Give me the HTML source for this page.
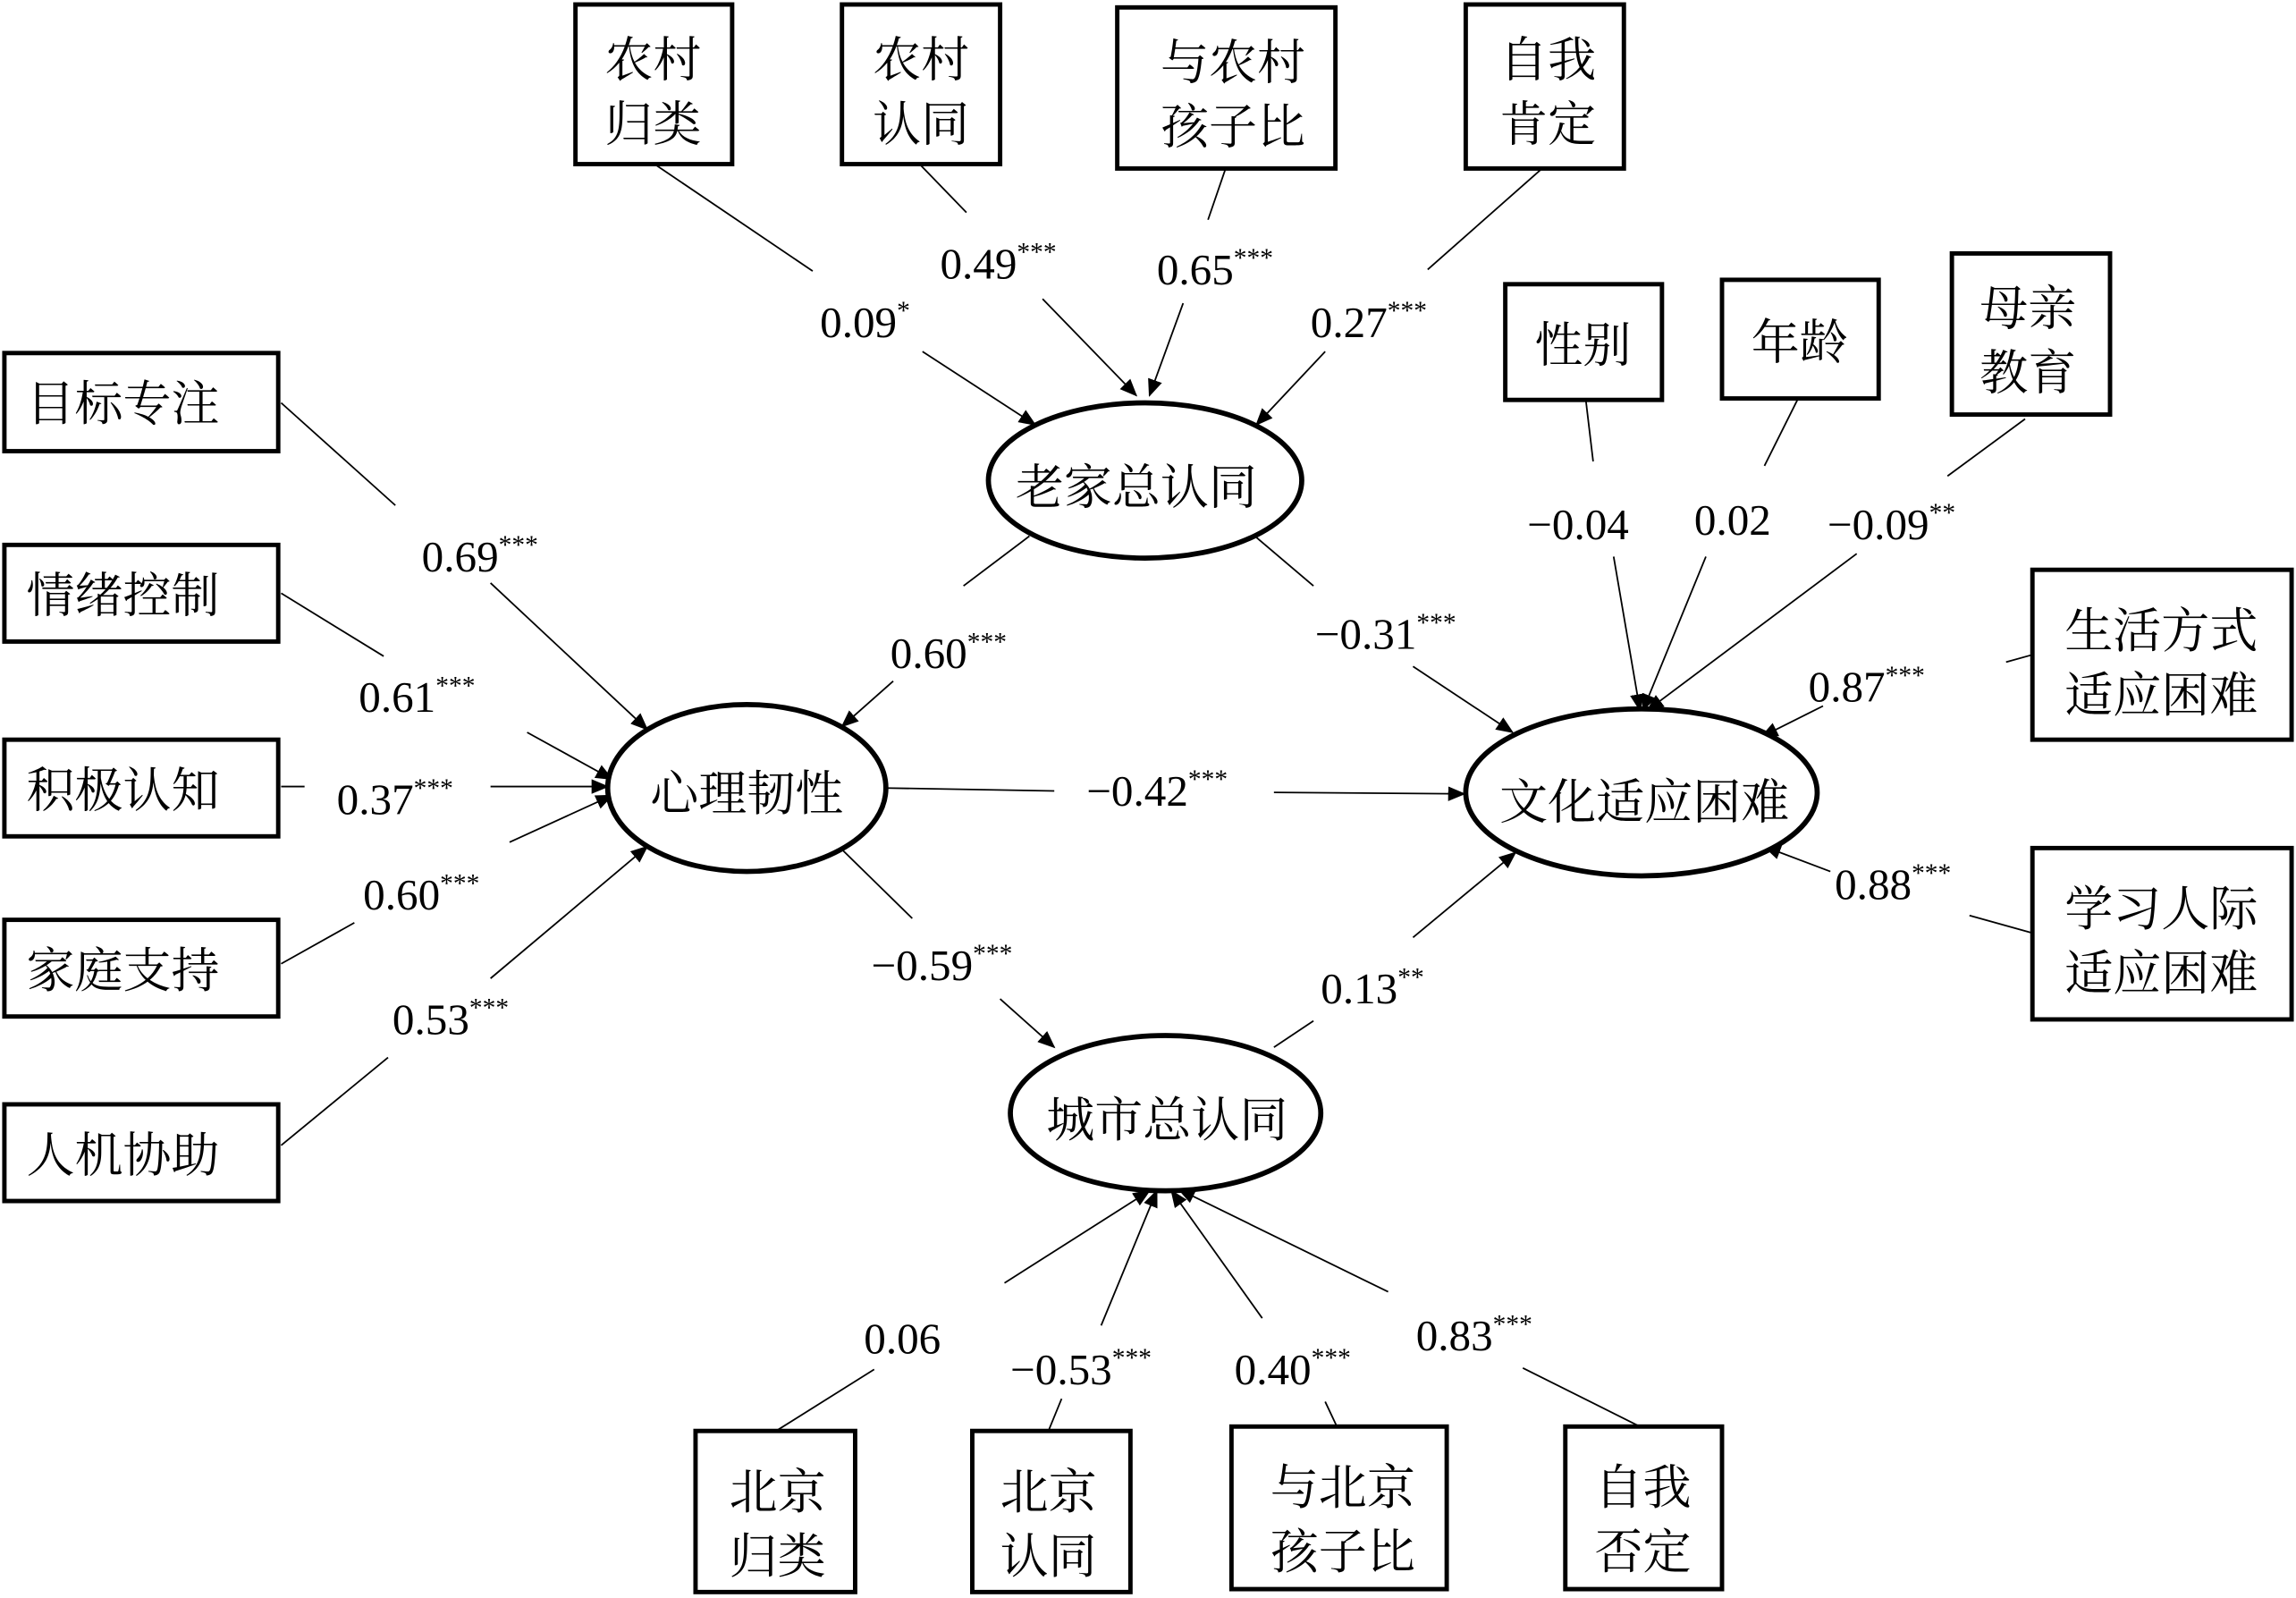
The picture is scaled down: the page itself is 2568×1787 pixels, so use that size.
<!DOCTYPE html>
<html><head><meta charset="utf-8">
<style>
html,body{margin:0;padding:0;background:#fff;}
svg{display:block;}
.b{fill:#fff;stroke:#000;stroke-width:3;}
.e{fill:#fff;stroke:#000;stroke-width:3.5;}
.l{stroke:#000;stroke-width:1.1;fill:none;}
.a{stroke:#000;stroke-width:1.1;fill:none;marker-end:url(#ar);}
.c{font-family:"Liberation Serif","Noto Serif CJK SC",serif;font-size:33px;fill:#000;}
.n{font-family:"Liberation Serif",serif;font-size:30px;fill:#000;}
.s{font-size:18px;}
</style></head><body>
<svg width="2568" height="1787" viewBox="0 0 1568 1091" xmlns="http://www.w3.org/2000/svg">
<defs><marker id="ar" markerWidth="12" markerHeight="10" refX="11" refY="5" orient="auto" markerUnits="userSpaceOnUse"><path d="M0,0 L12,5 L0,10 z" fill="#000"/></marker></defs>

<!-- lines -->
<line class="l" x1="447" y1="112" x2="555" y2="185"/><line class="a" x1="630" y1="240" x2="707" y2="290"/>
<line class="l" x1="628" y1="112" x2="660" y2="145"/><line class="a" x1="712" y1="204" x2="776" y2="270"/>
<line class="l" x1="837" y1="115" x2="825" y2="150"/><line class="a" x1="808" y1="207" x2="785" y2="270"/>
<line class="l" x1="1052" y1="116" x2="975" y2="184"/><line class="a" x1="905" y1="240" x2="858" y2="290"/>
<line class="l" x1="192" y1="275" x2="270" y2="345"/><line class="a" x1="335" y1="398" x2="442" y2="498"/>
<line class="l" x1="192" y1="405" x2="262" y2="448"/><line class="a" x1="360" y1="500" x2="418" y2="532"/>
<line class="l" x1="192" y1="537" x2="208" y2="537"/><line class="a" x1="335" y1="537" x2="415" y2="537"/>
<line class="l" x1="192" y1="658" x2="242" y2="630"/><line class="a" x1="348" y1="575" x2="418" y2="543"/>
<line class="l" x1="192" y1="782" x2="265" y2="722"/><line class="a" x1="335" y1="668" x2="442" y2="578"/>
<line class="l" x1="703" y1="366" x2="658" y2="400"/><line class="a" x1="610" y1="465" x2="575" y2="496"/>
<line class="l" x1="857" y1="366" x2="897" y2="400"/><line class="a" x1="965" y1="455" x2="1033" y2="500"/>
<line class="l" x1="605" y1="538" x2="720" y2="540"/><line class="a" x1="870" y1="541" x2="1000" y2="542"/>
<line class="l" x1="575" y1="580" x2="623" y2="627"/><line class="a" x1="683" y1="682" x2="720" y2="715"/>
<line class="l" x1="870" y1="715" x2="897" y2="697"/><line class="a" x1="965" y1="640" x2="1035" y2="582"/>
<line class="l" x1="1083" y1="273" x2="1088" y2="315"/><line class="a" x1="1102" y1="380" x2="1120" y2="485"/>
<line class="l" x1="1228" y1="272" x2="1205" y2="318"/><line class="a" x1="1165" y1="380" x2="1122" y2="485"/>
<line class="l" x1="1383" y1="286" x2="1330" y2="325"/><line class="a" x1="1268" y1="378" x2="1125" y2="485"/>
<line class="l" x1="1388" y1="447" x2="1370" y2="452"/><line class="a" x1="1245" y1="482" x2="1203" y2="503"/>
<line class="l" x1="1388" y1="637" x2="1345" y2="625"/><line class="a" x1="1250" y1="595" x2="1205" y2="578"/>
<line class="l" x1="530" y1="977" x2="597" y2="935"/><line class="a" x1="686" y1="876" x2="785" y2="813"/>
<line class="l" x1="716" y1="977" x2="725" y2="955"/><line class="a" x1="752" y1="905" x2="790" y2="813"/>
<line class="l" x1="913" y1="974" x2="905" y2="957"/><line class="a" x1="862" y1="900" x2="800" y2="813"/>
<line class="l" x1="1120" y1="974" x2="1040" y2="934"/><line class="a" x1="948" y1="882" x2="805" y2="812"/>

<!-- boxes -->
<rect class="b" x="393" y="3" width="107" height="109"/><text class="c" x="446" y="52" text-anchor="middle">农村</text><text class="c" x="446" y="96" text-anchor="middle">归类</text>
<rect class="b" x="575" y="3" width="108" height="109"/><text class="c" x="629" y="52" text-anchor="middle">农村</text><text class="c" x="629" y="96" text-anchor="middle">认同</text>
<rect class="b" x="763" y="5" width="149" height="110"/><text class="c" x="842" y="54" text-anchor="middle">与农村</text><text class="c" x="842" y="98" text-anchor="middle">孩子比</text>
<rect class="b" x="1001" y="3" width="108" height="112"/><text class="c" x="1057" y="52" text-anchor="middle">自我</text><text class="c" x="1057" y="96" text-anchor="middle">肯定</text>

<rect class="b" x="3" y="241" width="187" height="67"/><text class="c" x="18" y="287">目标专注</text>
<rect class="b" x="3" y="372" width="187" height="66"/><text class="c" x="18" y="418">情绪控制</text>
<rect class="b" x="3" y="505" width="187" height="66"/><text class="c" x="18" y="551">积极认知</text>
<rect class="b" x="3" y="628" width="187" height="66"/><text class="c" x="18" y="674">家庭支持</text>
<rect class="b" x="3" y="754" width="187" height="66"/><text class="c" x="18" y="800">人机协助</text>

<rect class="b" x="1028" y="194" width="107" height="79"/><text class="c" x="1081" y="247" text-anchor="middle">性别</text>
<rect class="b" x="1176" y="191" width="107" height="81"/><text class="c" x="1229" y="245" text-anchor="middle">年龄</text>
<rect class="b" x="1333" y="173" width="108" height="110"/><text class="c" x="1385" y="222" text-anchor="middle">母亲</text><text class="c" x="1385" y="266" text-anchor="middle">教育</text>
<rect class="b" x="1388" y="389" width="177" height="116"/><text class="c" x="1476" y="442" text-anchor="middle">生活方式</text><text class="c" x="1476" y="486" text-anchor="middle">适应困难</text>
<rect class="b" x="1388" y="579" width="177" height="117"/><text class="c" x="1476" y="632" text-anchor="middle">学习人际</text><text class="c" x="1476" y="676" text-anchor="middle">适应困难</text>

<rect class="b" x="475" y="977" width="109" height="110"/><text class="c" x="531" y="1030" text-anchor="middle">北京</text><text class="c" x="531" y="1074" text-anchor="middle">归类</text>
<rect class="b" x="664" y="977" width="108" height="110"/><text class="c" x="716" y="1030" text-anchor="middle">北京</text><text class="c" x="716" y="1074" text-anchor="middle">认同</text>
<rect class="b" x="841" y="974" width="147" height="111"/><text class="c" x="917" y="1027" text-anchor="middle">与北京</text><text class="c" x="917" y="1071" text-anchor="middle">孩子比</text>
<rect class="b" x="1069" y="974" width="107" height="111"/><text class="c" x="1122" y="1027" text-anchor="middle">自我</text><text class="c" x="1122" y="1071" text-anchor="middle">否定</text>

<!-- ellipses -->
<ellipse class="e" cx="782" cy="328" rx="107" ry="53"/><text class="c" x="776" y="344" text-anchor="middle">老家总认同</text>
<ellipse class="e" cx="510" cy="538" rx="95" ry="57"/><text class="c" x="510" y="553" text-anchor="middle">心理韧性</text>
<ellipse class="e" cx="1121" cy="541" rx="120" ry="57"/><text class="c" x="1123" y="559" text-anchor="middle">文化适应困难</text>
<ellipse class="e" cx="796" cy="760" rx="106" ry="53"/><text class="c" x="797" y="776" text-anchor="middle">城市总认同</text>

<!-- labels -->
<text class="n" x="560" y="230">0.09<tspan class="s" dy="-12">*</tspan></text>
<text class="n" x="642" y="190">0.49<tspan class="s" dy="-12">***</tspan></text>
<text class="n" x="790" y="194">0.65<tspan class="s" dy="-12">***</tspan></text>
<text class="n" x="895" y="230">0.27<tspan class="s" dy="-12">***</tspan></text>
<text class="n" x="288" y="390">0.69<tspan class="s" dy="-12">***</tspan></text>
<text class="n" x="245" y="486">0.61<tspan class="s" dy="-12">***</tspan></text>
<text class="n" x="230" y="556">0.37<tspan class="s" dy="-12">***</tspan></text>
<text class="n" x="248" y="621">0.60<tspan class="s" dy="-12">***</tspan></text>
<text class="n" x="268" y="706">0.53<tspan class="s" dy="-12">***</tspan></text>
<text class="n" x="608" y="456">0.60<tspan class="s" dy="-12">***</tspan></text>
<text class="n" x="898" y="443">−0.31<tspan class="s" dy="-12">***</tspan></text>
<text class="n" x="742" y="550">−0.42<tspan class="s" dy="-12">***</tspan></text>
<text class="n" x="595" y="669">−0.59<tspan class="s" dy="-12">***</tspan></text>
<text class="n" x="902" y="685">0.13<tspan class="s" dy="-12">**</tspan></text>
<text class="n" x="1043" y="368">−0.04</text>
<text class="n" x="1157" y="365">0.02</text>
<text class="n" x="1248" y="368">−0.09<tspan class="s" dy="-12">**</tspan></text>
<text class="n" x="1235" y="479">0.87<tspan class="s" dy="-12">***</tspan></text>
<text class="n" x="1253" y="614">0.88<tspan class="s" dy="-12">***</tspan></text>
<text class="n" x="590" y="924">0.06</text>
<text class="n" x="690" y="945">−0.53<tspan class="s" dy="-12">***</tspan></text>
<text class="n" x="843" y="945">0.40<tspan class="s" dy="-12">***</tspan></text>
<text class="n" x="967" y="922">0.83<tspan class="s" dy="-12">***</tspan></text>
</svg>
</body></html>
